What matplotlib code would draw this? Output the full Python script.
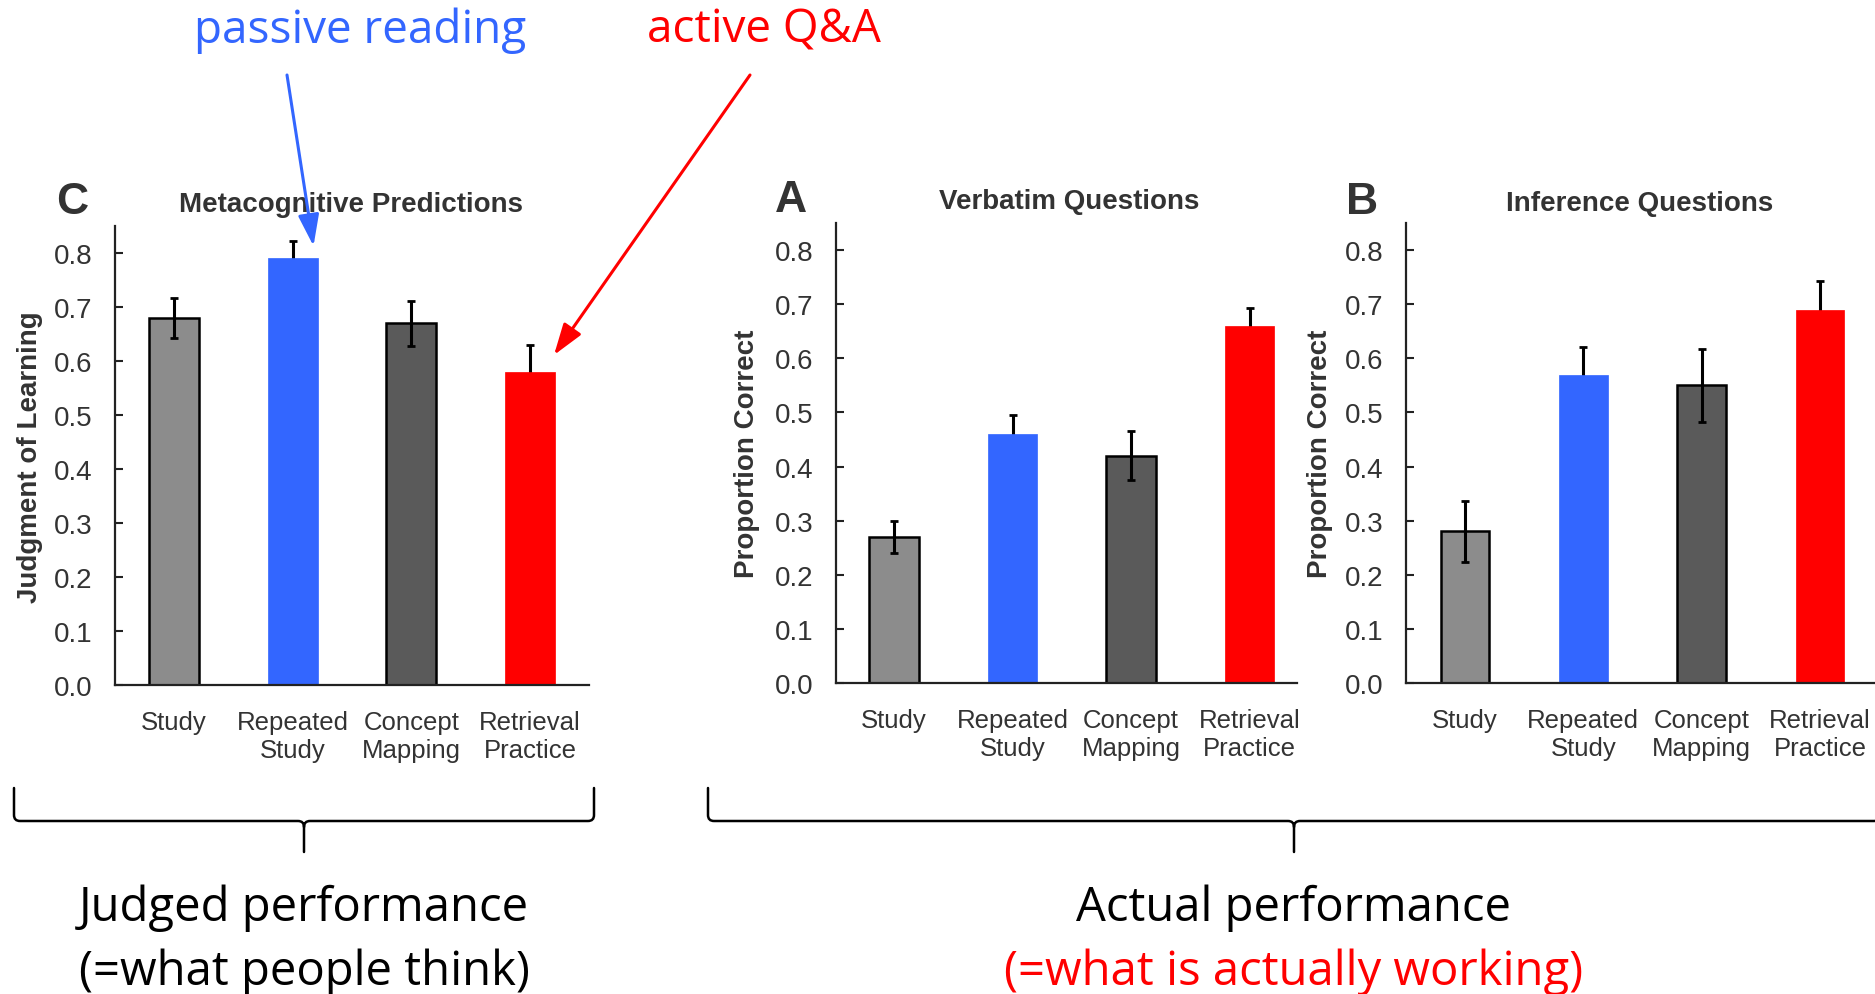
import matplotlib
matplotlib.use("Agg")
import matplotlib.pyplot as plt
from matplotlib.patches import FancyArrowPatch, PathPatch
from matplotlib.path import Path

# ---------------- data ----------------
categories = ["Study", "Repeated\nStudy", "Concept\nMapping", "Retrieval\nPractice"]
bar_colors = ["#8c8c8c", "#3366ff", "#5a5a5a", "#ff0000"]
gray_bar = [True, False, True, False]

jol_means = [0.68, 0.79, 0.67, 0.58]
jol_errs = [0.037, 0.033, 0.042, 0.05]
verbatim_means = [0.27, 0.46, 0.42, 0.66]
verbatim_errs = [0.03, 0.036, 0.045, 0.033]
inference_means = [0.28, 0.57, 0.55, 0.69]
inference_errs = [0.057, 0.051, 0.068, 0.053]

y_ticks = [0.0, 0.1, 0.2, 0.3, 0.4, 0.5, 0.6, 0.7, 0.8]
y_tick_labels = ["0.0", "0.1", "0.2", "0.3", "0.4", "0.5", "0.6", "0.7", "0.8"]

W, H = 1875, 995
plt.rcParams['font.family'] = ['Liberation Sans', 'DejaVu Sans']

fig = plt.figure(figsize=(W / 100, H / 100), dpi=100)
fig.patch.set_facecolor('white')


def rect(l, t, r, b):
    return [l / W, 1 - b / H, (r - l) / W, (b - t) / H]


def fxy(x, y):
    return x / W, 1 - y / H


panels = [
    dict(rect=rect(115, 227, 589, 686), xlim=(-0.497, 3.496), width=0.42,
         means=jol_means, errs=jol_errs, letter="C", letter_xy=(72, 202),
         title="Metacognitive Predictions", title_xy=(351, 205),
         ylabel="Judgment of Learning", ylabel_xy=(30, 457)),
    dict(rect=rect(836, 224, 1297, 684), xlim=(-0.49, 3.4), width=0.42,
         means=verbatim_means, errs=verbatim_errs, letter="A", letter_xy=(791, 201),
         title="Verbatim Questions", title_xy=(1069, 202),
         ylabel="Proportion Correct", ylabel_xy=(747, 454)),
    dict(rect=rect(1406, 224, 1875, 684), xlim=(-0.499, 3.466), width=0.41,
         means=inference_means, errs=inference_errs, letter="B", letter_xy=(1362, 202),
         title="Inference Questions", title_xy=(1640, 204),
         ylabel="Proportion Correct", ylabel_xy=(1320, 454)),
]

txtc = '#333333'
for p in panels:
    ax = fig.add_axes(p['rect'])
    x = list(range(len(categories)))
    for i in x:
        ec = 'black' if gray_bar[i] else bar_colors[i]
        ax.bar(i, p['means'][i], width=p['width'], color=bar_colors[i],
               edgecolor=ec, linewidth=1.8 if gray_bar[i] else 0.5, zorder=2)
        ax.errorbar(i, p['means'][i], yerr=p['errs'][i], fmt='none',
                    ecolor='black', elinewidth=2.2, capsize=3, capthick=2,
                    zorder=3 if gray_bar[i] else 1)
    ax.set_xlim(*p['xlim'])
    ax.set_ylim(0, 0.85)
    ax.set_yticks(y_ticks)
    ax.set_yticklabels(y_tick_labels)
    ax.set_xticks(x)
    ax.set_xticklabels(categories, linespacing=1.2)
    ax.tick_params(axis='x', length=0, pad=18, labelsize=18.5, labelcolor=txtc)
    ax.tick_params(axis='y', direction='in', length=6, width=1.5, pad=16,
                   labelsize=20, labelcolor=txtc, color='#222222')
    for s in ['top', 'right']:
        ax.spines[s].set_visible(False)
    for s in ['left', 'bottom']:
        ax.spines[s].set_linewidth(1.6)
        ax.spines[s].set_color('#222222')
    ax.set_facecolor('none')

    lx, ly = fxy(*p['letter_xy'])
    fig.text(lx, ly, p['letter'], fontsize=32, fontweight='bold', color=txtc,
             ha='center', va='center')
    tx, ty = fxy(*p['title_xy'])
    fig.text(tx, ty, p['title'], fontsize=20, fontweight='bold', color=txtc,
             ha='center', va='center')
    yx, yy = fxy(*p['ylabel_xy'])
    fig.text(yx, yy, p['ylabel'], fontsize=20, fontweight='bold', color=txtc,
             ha='center', va='center', rotation=90)

# ---------------- overlay: annotations, arrows, braces ----------------
ov = fig.add_axes([0, 0, 1, 1], zorder=10)
ov.set_xlim(0, W)
ov.set_ylim(H, 0)
ov.axis('off')
ov.patch.set_alpha(0)

blue = '#3366ff'
red = '#ff0000'
ann_font = ['Open Sans', 'DejaVu Sans']

ov.text(360, 43, "passive reading", ha='center', va='baseline', fontsize=33,
        color=blue, family=ann_font)
ov.text(764, 43, "active Q&A", ha='center', va='baseline', fontsize=33,
        color=red, family=ann_font)

arrow_style = '-|>,head_length=0.6,head_width=0.2'
ov.add_patch(FancyArrowPatch((287, 76), (313.5, 247), arrowstyle=arrow_style,
                             mutation_scale=32, lw=2.2, color=blue,
                             shrinkA=0, shrinkB=0))
ov.add_patch(FancyArrowPatch((750, 76), (554, 356), arrowstyle=arrow_style,
                             mutation_scale=32, lw=2.2, color=red,
                             shrinkA=0, shrinkB=0))


def brace(x0, x1, xc, ytop, ymid, ybot, r=6):
    verts = [(x0, ytop), (x0, ymid - r), (x0, ymid), (x0 + r, ymid),
             (xc - r, ymid), (xc, ymid), (xc, ymid + r), (xc, ybot),
             (xc, ymid + r), (xc, ymid), (xc + r, ymid),
             (x1 - r, ymid), (x1, ymid), (x1, ymid - r), (x1, ytop)]
    codes = [Path.MOVETO, Path.LINETO, Path.CURVE3, Path.CURVE3,
             Path.LINETO, Path.CURVE3, Path.CURVE3, Path.LINETO,
             Path.MOVETO, Path.CURVE3, Path.CURVE3,
             Path.LINETO, Path.CURVE3, Path.CURVE3, Path.LINETO]
    ov.add_patch(PathPatch(Path(verts, codes), fill=False, lw=1.8,
                           edgecolor='black', capstyle='round'))


brace(14, 594, 304, 789, 822, 853)
brace(708, 1880, 1294, 789, 822, 853)

ov.text(304, 921, "Judged performance", ha='center', va='baseline', fontsize=34,
        color='black', family=ann_font)
ov.text(304, 985, "(=what people think)", ha='center', va='baseline', fontsize=34,
        color='black', family=ann_font)
ov.text(1294, 921, "Actual performance", ha='center', va='baseline', fontsize=34,
        color='black', family=ann_font)
ov.text(1294, 985, "(=what is actually working)", ha='center', va='baseline',
        fontsize=34, color=red, family=ann_font)

fig.savefig("out.png", dpi=100, facecolor='white')
